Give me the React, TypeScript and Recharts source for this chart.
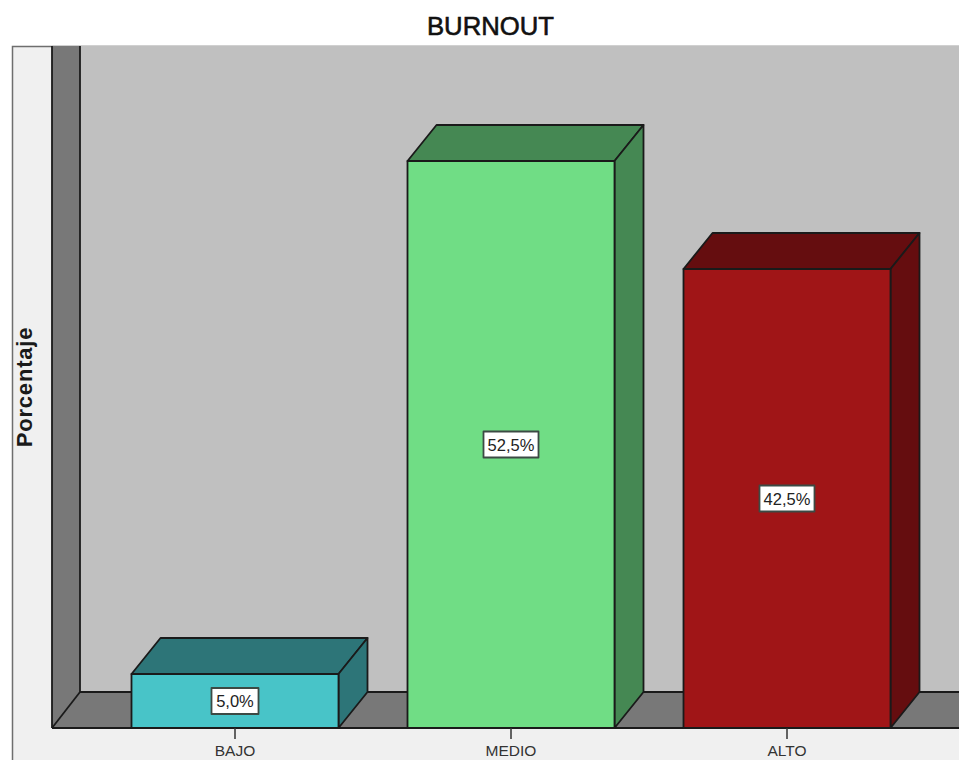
import { BarChart, Bar, XAxis, YAxis, Customized } from 'recharts';

const CATEGORIES = ['BAJO', 'MEDIO', 'ALTO'];
const PERCENTS = [5.0, 52.5, 42.5];
const FRONT_COLORS = ['#48c4c8', '#70dd85', '#a01517'];
const DEPTH_COLORS = ['#2d7578', '#458853', '#650d0f'];

const WIDTH = 959;
const HEIGHT = 760;
const AXIS_HEIGHT = 32;
const MARGIN = { top: 80, right: 34, bottom: 0, left: 97 };
const DEPTH_X = 29;
const DEPTH_Y = 36;
const EDGE = '#1a1a1a';
const EDGE_W = 1.8;

const data = CATEGORIES.map((name, i) => ({ name, value: PERCENTS[i] }));

function formatPct(v: number): string {
  return v.toFixed(1).replace('.', ',') + '%';
}

// panel, walls and floor behind the bars
function Backdrop() {
  const base = HEIGHT - AXIS_HEIGHT;
  const wallLeft = 52;
  const wallTop = 46;
  const backLeft = wallLeft + DEPTH_X - 1;
  const backBase = base - DEPTH_Y;
  return (
    <g>
      <rect x={12.5} y={wallTop + 0.5} width={WIDTH} height={HEIGHT} fill="#f0f0f0" stroke="#6e6e6e" strokeWidth={1.5} />
      <rect x={backLeft} y={wallTop} width={WIDTH - backLeft} height={backBase - wallTop} fill="#c0c0c0" />
      <line x1={wallLeft} y1={wallTop - 0.5} x2={WIDTH} y2={wallTop - 0.5} stroke="#d0d0d0" />
      <polygon
        points={`${wallLeft},${wallTop} ${backLeft},${wallTop} ${backLeft},${backBase} ${WIDTH},${backBase} ${WIDTH},${base} ${wallLeft},${base}`}
        fill="#787878"
      />
      <line x1={wallLeft} y1={wallTop} x2={wallLeft} y2={base} stroke={EDGE} strokeWidth={EDGE_W} />
      <line x1={backLeft} y1={wallTop} x2={backLeft} y2={backBase} stroke={EDGE} strokeWidth={EDGE_W} />
      <line x1={backLeft} y1={backBase} x2={WIDTH} y2={backBase} stroke={EDGE} strokeWidth={EDGE_W} />
      <line x1={wallLeft} y1={base} x2={backLeft} y2={backBase} stroke={EDGE} strokeWidth={EDGE_W} />
      <line x1={wallLeft} y1={base} x2={WIDTH} y2={base} stroke={EDGE} strokeWidth={EDGE_W} />
      <text
        x={490.5}
        y={35}
        textAnchor="middle"
        fontFamily="Liberation Sans"
        fontSize={25.7}
        fill="#111"
        stroke="#111"
        strokeWidth={0.6}
      >
        BURNOUT
      </text>
      <text
        transform="translate(31.5,387) rotate(-90)"
        textAnchor="middle"
        fontFamily="Liberation Sans"
        fontWeight="bold"
        fontSize={22}
        letterSpacing={0.8}
        fill="#1a1a1a"
      >
        Porcentaje
      </text>
    </g>
  );
}

function Box3D(props: any) {
  const { x, y, width, height, index, value } = props;
  const r = x + width;
  const b = y + height;
  const cx = x + width / 2;
  const cy = y + height / 2;
  const label = formatPct(Array.isArray(value) ? value[1] : value);
  const boxW = 15 + 8 * label.length;
  return (
    <g stroke={EDGE} strokeWidth={EDGE_W} strokeLinejoin="round">
      <polygon
        points={`${x},${y} ${x + DEPTH_X},${y - DEPTH_Y} ${r + DEPTH_X},${y - DEPTH_Y} ${r},${y}`}
        fill={DEPTH_COLORS[index]}
      />
      <polygon
        points={`${r},${y} ${r + DEPTH_X},${y - DEPTH_Y} ${r + DEPTH_X},${b - DEPTH_Y} ${r},${b}`}
        fill={DEPTH_COLORS[index]}
      />
      <rect x={x} y={y} width={width} height={height} fill={FRONT_COLORS[index]} />
      <rect x={cx - boxW / 2} y={cy - 13} width={boxW} height={26} fill="#fff" stroke="#3c4a44" strokeWidth={1.8} />
      <text
        x={cx}
        y={cy + 6}
        textAnchor="middle"
        fontFamily="Liberation Sans"
        fontSize={16.5}
        fill="#222"
        stroke="none"
      >
        {label}
      </text>
    </g>
  );
}

export default function App() {
  return (
    <div style={{ position: 'absolute', left: 0, top: 0, width: WIDTH, height: HEIGHT, overflow: 'hidden' }}>
      <BarChart width={WIDTH} height={HEIGHT} data={data} margin={MARGIN} barCategoryGap="12.5%">
        <Customized component={Backdrop} />
        <XAxis
          dataKey="name"
          height={AXIS_HEIGHT}
          interval={0}
          axisLine={false}
          tickSize={11}
          tickMargin={6}
          tickLine={{ stroke: '#333', strokeWidth: 1.5 }}
          tick={{ fill: '#333', fontSize: 15.5, fontFamily: 'Liberation Sans' }}
        />
        <YAxis hide domain={[0, 60]} />
        <Bar dataKey="value" shape={<Box3D />} isAnimationActive={false} />
      </BarChart>
    </div>
  );
}
